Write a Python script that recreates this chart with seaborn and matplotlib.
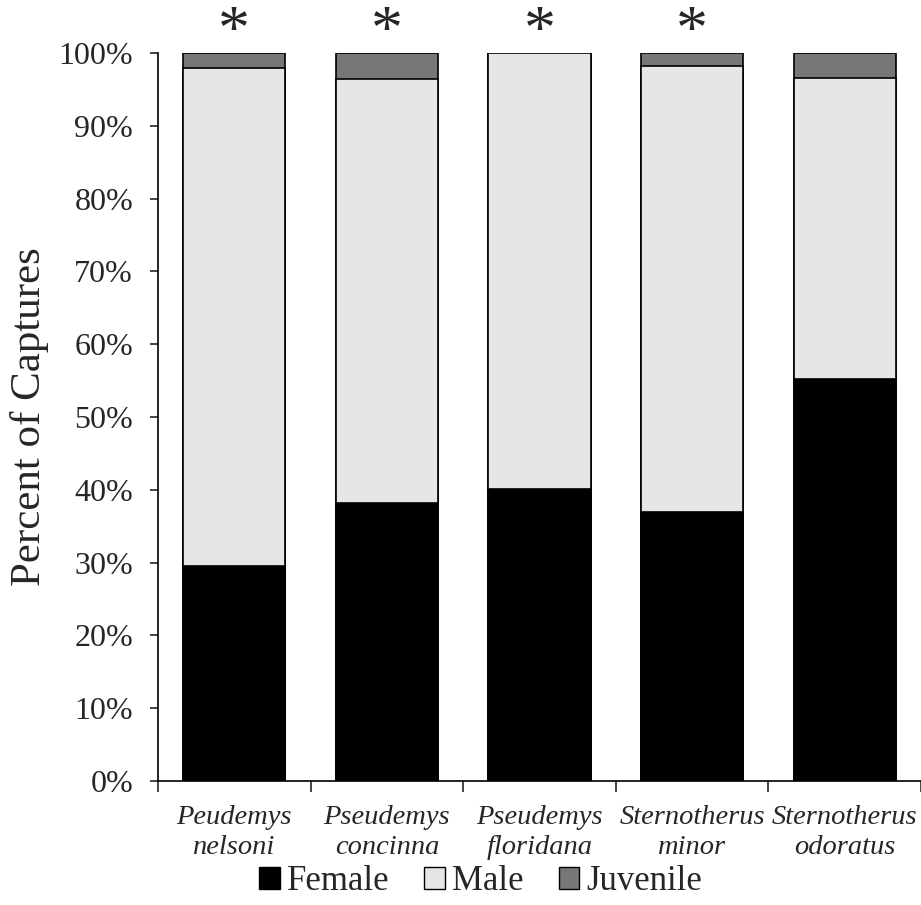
import numpy as np
import pandas as pd
import matplotlib.pyplot as plt
import seaborn as sns
from matplotlib.patches import Patch
from matplotlib.ticker import FixedLocator

species = ['Peudemys\nnelsoni', 'Pseudemys\nconcinna', 'Pseudemys\nfloridana',
           'Sternotherus\nminor', 'Sternotherus\nodoratus']
female = [29.6, 38.2, 40.1, 36.9, 55.2]
male = [68.4, 58.2, 59.9, 61.3, 41.4]
juvenile = [2.0, 3.6, 0.0, 1.8, 3.4]
significant = [True, True, True, True, False]

df = pd.DataFrame({'species': species, 'Female': female, 'Male': male, 'Juvenile': juvenile})
df['top_male'] = df['Female'] + df['Male']
df['top_juv'] = df['top_male'] + df['Juvenile']

sns.set_style('white')
plt.rcParams['font.family'] = ['Liberation Serif', 'DejaVu Serif']

fig = plt.figure(figsize=(9.21, 9.05), dpi=100)
ax = fig.add_axes([158 / 921, 1 - 781 / 905, 1 - 158 / 921, (781 - 53) / 905])

colors = {'Female': '#000000', 'Male': '#e6e6e6', 'Juvenile': '#777777'}
# stacked bars: draw cumulative totals from the top segment down
for col, c in [('top_juv', colors['Juvenile']), ('top_male', colors['Male']), ('Female', colors['Female'])]:
    sns.barplot(data=df, x='species', y=col, color=c, edgecolor='black', linewidth=1.2,
                width=0.67, saturation=1, ax=ax)

ax.set_xlim(-0.5, 4.5)
ax.set_ylim(0, 100)
ax.set_yticks(np.arange(0, 101, 10))
ax.set_yticklabels([f'{v}%' for v in range(0, 101, 10)], fontsize=23)
ax.tick_params(axis='y', direction='out', length=6, width=1.2, pad=12, left=True)

ax.xaxis.set_major_locator(FixedLocator(np.arange(-0.5, 5, 1)))
ax.xaxis.set_minor_locator(FixedLocator(np.arange(0, 5, 1)))
ax.set_xticklabels([''] * 6)
ax.set_xticklabels(species, minor=True, fontsize=20.5, style='italic', linespacing=1.28)
ax.tick_params(axis='x', which='major', direction='out', length=8, width=1.2, bottom=True)
ax.tick_params(axis='x', which='minor', length=0, pad=17)

ax.set_xlabel('')
ax.set_ylabel('Percent of Captures', fontsize=31, labelpad=7)

for s in ['top', 'right']:
    ax.spines[s].set_visible(False)
for s in ['left', 'bottom']:
    ax.spines[s].set_color('black')
    ax.spines[s].set_linewidth(1.2)

for i, sig in enumerate(significant):
    if sig:
        ax.text(i, 100.6, '*', ha='center', va='baseline', fontsize=46, clip_on=False)

handles = [Patch(facecolor=colors[k], edgecolor='black', linewidth=1, label=k)
           for k in ['Female', 'Male', 'Juvenile']]
fig.legend(handles=handles, loc='lower center', bbox_to_anchor=(0.522, -0.012), ncol=3,
           frameon=False, fontsize=25, handlelength=0.6, handleheight=0.6, borderpad=0,
           handletextpad=0.2, columnspacing=1.0)

fig.savefig('out.png', dpi=100)
